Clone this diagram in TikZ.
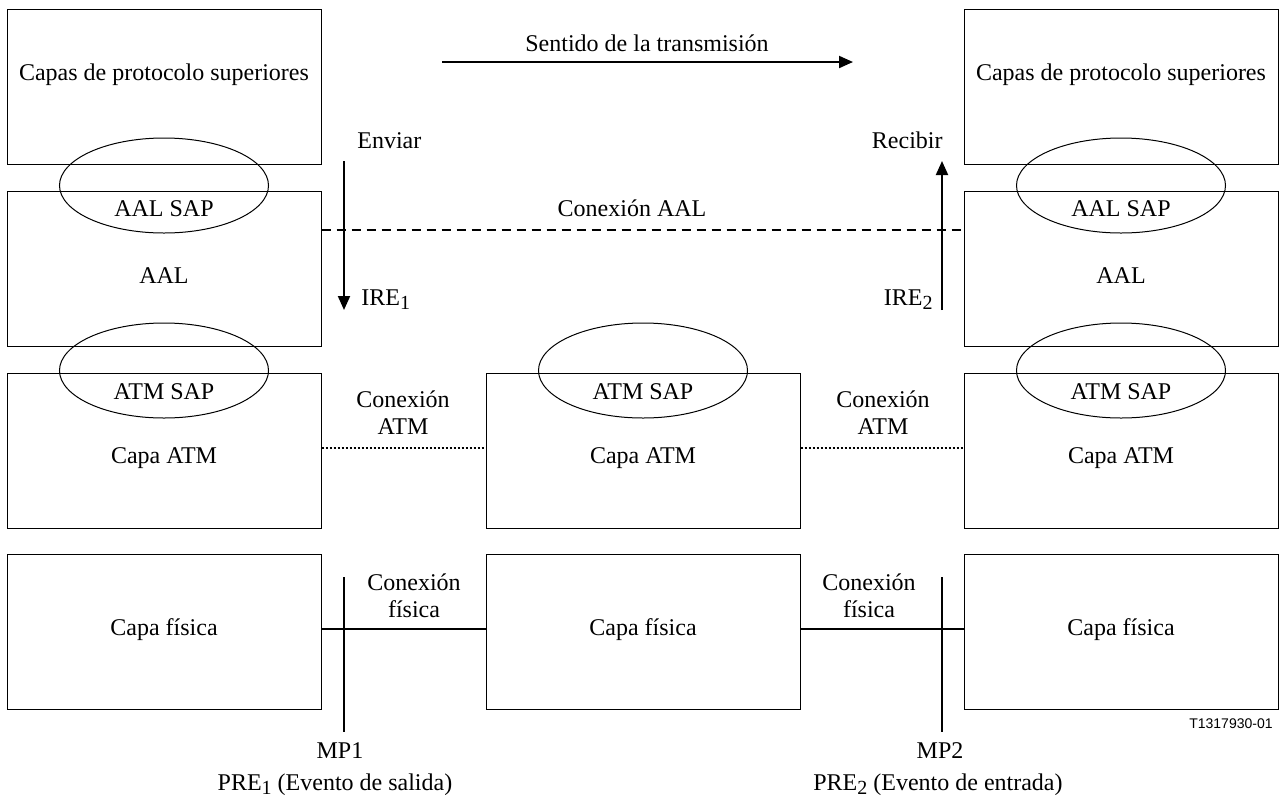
\documentclass[tikz,border=0pt]{standalone}
\usepackage{fontspec}
\setmainfont{Liberation Serif}
\newfontfamily\labelsans{Liberation Sans}
\usetikzlibrary{shapes.geometric}
\usetikzlibrary{arrows.meta}
\usetikzlibrary{positioning}
\usetikzlibrary{calc}

\newcommand{\lowidx}[1]{\raisebox{-0.45ex}{\fontsize{10}{10}\selectfont #1}}

\tikzset{
  layerbox/.style={draw, line width=0.5pt, minimum width=157pt, minimum height=77.5pt, inner sep=0pt},
  sap/.style={draw, ellipse, line width=0.5pt, minimum width=104.5pt, minimum height=47.5pt, inner sep=0pt},
  txt/.style={font=\fontsize{12}{13.5}\selectfont, inner sep=0pt, anchor=base},
  twoline/.style={txt, align=center},
  conn/.style={line width=1pt},
  flow/.style={line width=1pt, -{Triangle[length=7pt,width=6pt]}}
}

\begin{document}
\begin{tikzpicture}[x=0.5pt, y=-0.5pt]
  \useasboundingbox (0,0) rectangle (1281,805);

  % layer boxes: left end system, intermediate node, right end system
  \node[layerbox] (topL)  at (164,87) {};
  \node[layerbox] (aalL)  at (164,269) {};
  \node[layerbox] (atmL)  at (164,450.5) {};
  \node[layerbox] (physL) at (164,631.5) {};
  \node[layerbox] (atmM)  at (643,450.5) {};
  \node[layerbox] (physM) at (643,631.5) {};
  \node[layerbox] (topR)  at (1121,87) {};
  \node[layerbox] (aalR)  at (1121,269) {};
  \node[layerbox] (atmR)  at (1121,450.5) {};
  \node[layerbox] (physR) at (1121,631.5) {};

  % service access points
  \node[sap] (aalsapL) at (164,185.5) {};
  \node[sap] (aalsapR) at (1121,185.5) {};
  \node[sap] (atmsapL) at (164,370.5) {};
  \node[sap] (atmsapM) at (643,370.5) {};
  \node[sap] (atmsapR) at (1121,370.5) {};

  % box texts
  \foreach \side/\cx in {L/164, R/1121} {
    \node[txt] (upper\side) at (\cx,80) {Capas de protocolo superiores};
    \node[txt] (aalsaptxt\side) at (\cx,216) {AAL SAP};
    \node[txt] (aaltxt\side) at (\cx,283) {AAL};
  }
  \foreach \side/\cx in {L/164, M/643, R/1121} {
    \node[txt] (atmsaptxt\side) at (\cx,399) {ATM SAP};
    \node[txt] (atmtxt\side) at (\cx,463) {Capa ATM};
    \node[txt] (phystxt\side) at (\cx,635) {Capa física};
  }

  % direction of transmission
  \node[txt] (sentido) at (647,51) {Sentido de la transmisión};
  \coordinate (dirA) at (442,62);
  \coordinate (dirB) at (853,62);
  \draw[flow] (dirA) -- (dirB);

  % send / receive
  \node[txt, anchor=base west] (enviar) at (357,148) {Enviar};
  \node[txt, anchor=base west] (ire1) at (361,305) {IRE\lowidx{1}};
  \coordinate (sendA) at (344,161);
  \coordinate (sendB) at (344,310);
  \draw[flow] (sendA) -- (sendB);
  \node[txt, anchor=base east] (recibir) at (943,148) {Recibir};
  \node[txt, anchor=base east] (ire2) at (933,305) {IRE\lowidx{2}};
  \coordinate (recvA) at (942,310);
  \coordinate (recvB) at (942,161);
  \draw[flow] (recvA) -- (recvB);

  % AAL connection
  \draw[conn, dash pattern=on 4.5pt off 3pt] ([yshift=19.5pt]aalL.east) -- ([yshift=19.5pt]aalR.west);
  \node[txt] (aalconn) at (632,216) {Conexión AAL};

  % ATM connections
  \draw[conn, dash pattern=on 1pt off 1pt] ([yshift=1.5pt]atmL.east) -- ([yshift=1.5pt]atmM.west);
  \draw[conn, dash pattern=on 1pt off 1pt] ([yshift=1.5pt]atmM.east) -- ([yshift=1.5pt]atmR.west);
  \node[twoline] (atmconnL) at (403,434) {Conexión\\ATM};
  \node[twoline] (atmconnR) at (883,434) {Conexión\\ATM};

  % physical connections
  \draw[conn] ([yshift=1.25pt]physL.east) -- ([yshift=1.25pt]physM.west);
  \draw[conn] ([yshift=1.25pt]physM.east) -- ([yshift=1.25pt]physR.west);
  \node[twoline] (physconnL) at (414,617) {Conexión\\física};
  \node[twoline] (physconnR) at (869,617) {Conexión\\física};

  % measurement points
  \coordinate (mp1top) at (344,577);
  \coordinate (mp1bot) at (344,732);
  \coordinate (mp2top) at (942,577);
  \coordinate (mp2bot) at (942,732);
  \draw[conn] (mp1top) -- (mp1bot);
  \draw[conn] (mp2top) -- (mp2bot);
  \node[txt] (mp1) at (340,758) {MP1};
  \node[txt] (mp2) at (940,758) {MP2};
  \node[txt] (pre1) at (335,790) {PRE\lowidx{1} (Evento de salida)};
  \node[txt] (pre2) at (938,790) {PRE\lowidx{2} (Evento de entrada)};

  \node[txt, anchor=base east, font=\labelsans\fontsize{7}{8}\selectfont] (figid) at (1273,728) {T1317930-01};
\end{tikzpicture}
\end{document}
